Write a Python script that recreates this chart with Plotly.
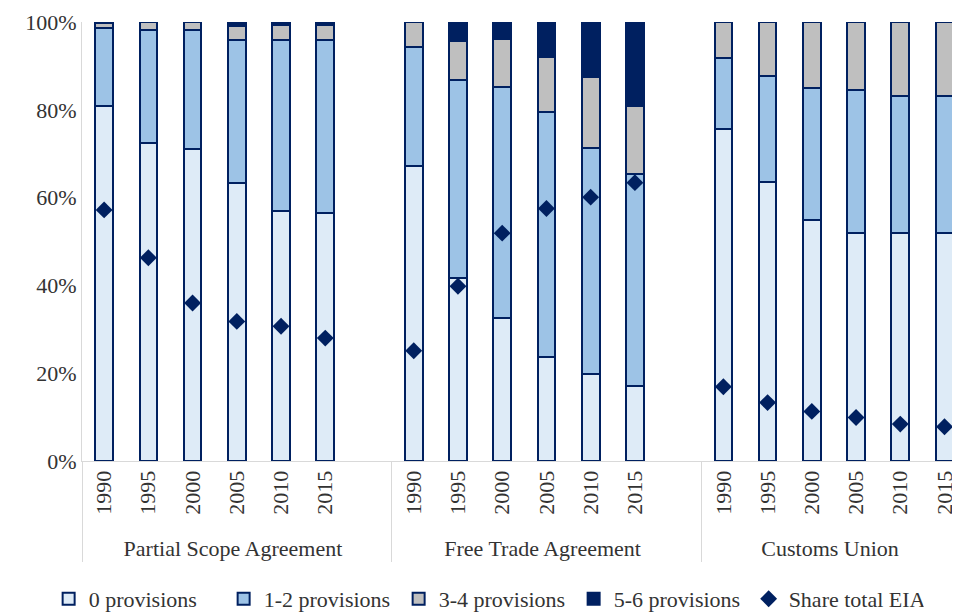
import plotly.graph_objects as go

groups = ["Partial Scope Agreement"] * 7 + ["Free Trade Agreement"] * 7 + ["Customs Union"] * 6
years = ["1990", "1995", "2000", "2005", "2010", "2015", " "] * 2 + ["1990", "1995", "2000", "2005", "2010", "2015"]

# shares in percent, None = empty spacer slot between groups
zero_prov = [80.8, 72.5, 71.1, 63.4, 56.9, 56.6, None,
             67.2, 41.6, 32.5, 23.6, 19.8, 17.1, None,
             75.7, 63.5, 55.0, 51.9, 51.9, 51.9]
one_two_prov = [17.8, 25.7, 27.1, 32.5, 39.0, 39.3, None,
                27.0, 45.2, 52.7, 56.0, 51.6, 48.2, None,
                16.0, 24.2, 30.0, 32.7, 31.2, 31.2]
three_four_prov = [1.1, 1.8, 1.8, 3.2, 3.4, 3.4, None,
                   5.8, 8.9, 10.9, 12.5, 16.0, 15.5, None,
                   8.3, 12.3, 15.0, 15.4, 16.9, 16.9]
five_six_prov = [0.3, 0.0, 0.0, 0.9, 0.7, 0.7, None,
                 0.0, 4.3, 3.9, 7.9, 12.6, 19.2, None,
                 0.0, 0.0, 0.0, 0.0, 0.0, 0.0]
share_total = [57.2, 46.3, 36.0, 31.8, 30.7, 28.0, None,
               25.1, 39.8, 51.9, 57.5, 60.1, 63.4, None,
               16.9, 13.3, 11.3, 9.9, 8.4, 7.8]

y_ticks = [0, 20, 40, 60, 80, 100]
y_labels = ["0%", "20%", "40%", "60%", "80%", "100%"]

navy = "#002060"
font = "Liberation Serif"
x = [groups, years]

fig = go.Figure()

series = [
    ("0 provisions", zero_prov, "#DEEBF7"),
    ("1-2 provisions", one_two_prov, "#9DC3E6"),
    ("3-4 provisions", three_four_prov, "#BFBFBF"),
    ("5-6 provisions", five_six_prov, navy),
]
for name, vals, col in series:
    fig.add_trace(go.Bar(
        x=x, y=vals, name=name,
        marker=dict(color=col, line=dict(color=navy, width=2)),
    ))

# diamonds for share of total EIAs
fig.add_trace(go.Scatter(
    x=x, y=share_total, name="Share total EIAs",
    mode="markers",
    marker=dict(symbol="diamond", color=navy, size=13),
))

# page body has an 8px margin, so the figure is offset by 8px in the window
fig.update_layout(
    barmode="stack",
    bargap=0.6,
    width=952, height=612,
    margin=dict(l=74, r=0, t=14, b=159),
    plot_bgcolor="white", paper_bgcolor="white",
    font=dict(family=font, size=22, color="#333333"),
    legend=dict(orientation="h", x=-0.038, xanchor="left", y=-0.362, yanchor="bottom",
                font=dict(size=22), itemwidth=30, traceorder="normal",
                entrywidth=130),
)
fig.update_xaxes(
    type="multicategory",
    range=[-0.5, 19.35],
    tickangle=-90,
    showline=True, linecolor="#D9D9D9", linewidth=1,
    dividercolor="#D9D9D9", dividerwidth=1,
    showgrid=False, automargin=False,
)
fig.update_yaxes(
    range=[0, 100], tickvals=y_ticks, ticktext=y_labels,
    showline=True, linecolor="#D9D9D9", linewidth=1,
    showgrid=False, zeroline=False, automargin=False,
)

fig.write_html("out.html")
